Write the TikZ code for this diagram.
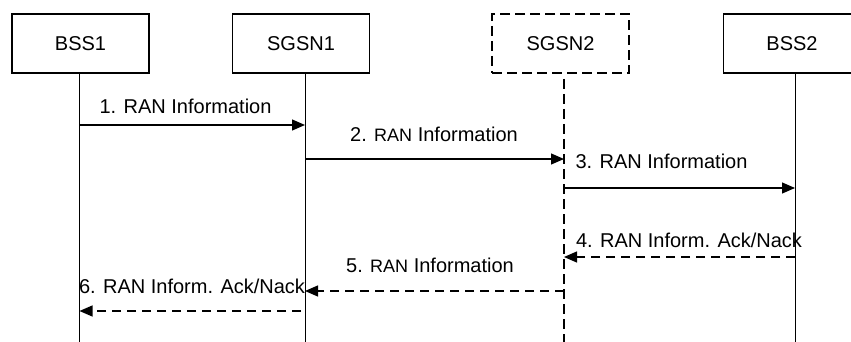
\documentclass[tikz,border=0pt]{standalone}
\usepackage{fontspec}
\setmainfont{Liberation Sans}
\usetikzlibrary{arrows.meta, positioning}

\begin{document}
\begin{tikzpicture}[
    x=0.5pt, y=-0.5pt, % one unit is one pixel of the sketch, y downwards
    >={Triangle[length=6.5pt, width=5.5pt]}, % Set default arrow tip style
    entity/.style={draw, line width=0.8pt, minimum width=68.5pt, minimum height=29.5pt, inner sep=0pt, font=\fontsize{10}{12}\selectfont}, % Style for the boxes
    optional/.style={entity, line width=1pt, dash pattern=on 5pt off 2.5pt}, % Style for the dashed box
    lifeline/.style={line width=0.5pt}, % Style for the vertical lines
    msg/.style={->, line width=0.6pt}, % Style for request messages
    reply/.style={->, line width=0.6pt, dash pattern=on 4.5pt off 3pt}, % Style for answers
    lbl/.style={anchor=base, inner sep=0pt, font=\fontsize{10}{12}\selectfont}, % Style for labels
    small/.style={font=\fontsize{9}{11}\selectfont}
]

    \useasboundingbox (0,0) rectangle (851,342);
    \clip (0,0) rectangle (851,342);

    % Boxes at the top
    \node[entity] (bss1) at (80.5,43.5) {BSS1};
    \node[entity] (sgsn1) at (301,43.5) {SGSN1};
    \node[optional] (sgsn2) at (560.5,43.5) {SGSN2};
    \node[entity] (bss2) at (792,43.5) {BSS2};

    % Ends of the lifelines
    \coordinate (bss1 end) at (79.5,342);
    \coordinate (sgsn1 end) at (305,342);
    \coordinate (sgsn2 end) at (564,342);
    \coordinate (bss2 end) at (795,342);

    % Lifelines
    \draw[lifeline] (bss1.south -| bss1 end) -- (bss1 end);
    \draw[lifeline] (sgsn1.south -| sgsn1 end) -- (sgsn1 end);
    \draw[line width=1pt, dash pattern=on 5pt off 2.5pt] (sgsn2.south -| sgsn2 end) ++(0,5) -- (sgsn2 end);
    \draw[lifeline] (bss2.south -| bss2 end) -- (bss2 end);

    % Message ends on the lifelines
    \coordinate (m1a) at (79.5,125);  \coordinate (m1b) at (305,125);
    \coordinate (m2a) at (305,159);   \coordinate (m2b) at (564,159);
    \coordinate (m3a) at (564,188);   \coordinate (m3b) at (795,188);
    \coordinate (m4a) at (795,257);   \coordinate (m4b) at (564,257);
    \coordinate (m5a) at (564,291);   \coordinate (m5b) at (305,291);
    \coordinate (m6a) at (301,311);   \coordinate (m6b) at (79.5,311);

    % Messages
    \draw[msg] (m1a) -- (m1b);
    \draw[msg] (m2a) -- (m2b);
    \draw[msg] (m3a) -- (m3b);
    \draw[reply] (m4a) -- (m4b);
    \draw[reply] (m5a) -- (m5b);
    \draw[reply] (m6a) -- (m6b);

    % Labels
    \node[lbl] (l1) at (185.5,114) {1. RAN Information};
    \node[lbl] (l2) at (434,141) {2. {\small RAN} Information};
    \node[lbl] (l3) at (661.5,169) {3. RAN Information};
    \node[lbl] (l4) at (689,247) {4. RAN Inform. Ack/Nack};
    \node[lbl] (l5) at (430,272) {5. {\small RAN} Information};
    \node[lbl] (l6) at (192,293) {6. RAN Inform. Ack/Nack};

\end{tikzpicture}
\end{document}
